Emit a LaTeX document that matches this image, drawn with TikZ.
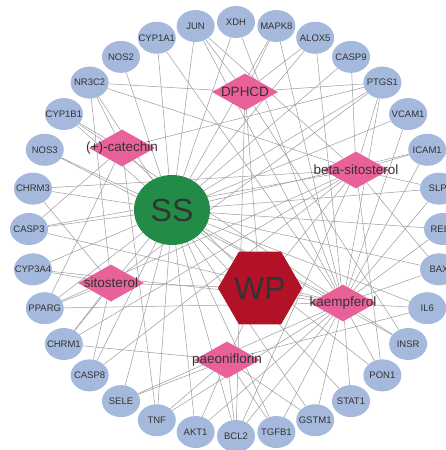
\documentclass[tikz,border=0pt]{standalone}
\usepackage{fontspec}
\setmainfont{Liberation Sans}
\usetikzlibrary{shapes.geometric}
\pgfdeclarelayer{bg}
\pgfsetlayers{bg,main}
\definecolor{tgtblue}{RGB}{164,185,220}
\definecolor{cmppink}{RGB}{233,97,154}
\definecolor{ssgreen}{RGB}{35,139,72}
\definecolor{wpred}{RGB}{178,18,40}
\definecolor{txtgray}{RGB}{51,51,51}
\definecolor{linkgray}{RGB}{155,155,155}
\begin{document}
\begin{tikzpicture}[x=1pt,y=-1pt]
\tikzstyle{target}=[ellipse,fill=tgtblue,minimum width=38pt,minimum height=32pt,inner sep=0pt]
\tikzstyle{ttext}=[text=txtgray,font=\fontsize{9.5}{11}\selectfont]
\tikzstyle{compound}=[diamond,fill=cmppink,minimum width=66pt,minimum height=37pt,inner sep=0pt]
\tikzstyle{ctext}=[text=txtgray,font=\fontsize{13.5}{16}\selectfont]
\tikzstyle{link}=[draw=linkgray,line width=0.5pt]

\useasboundingbox (0,0) rectangle (445,450);

% targets on the ring
\foreach \t [count=\i from 0] in {RELA,SLPI,ICAM1,VCAM1,PTGS1,CASP9,ALOX5,MAPK8,XDH,JUN,CYP1A1,NOS2,NR3C2,CYP1B1,NOS3,CHRM3,CASP3,CYP3A4,PPARG,CHRM1,CASP8,SELE,TNF,AKT1,BCL2,TGFB1,GSTM1,STAT1,PON1,INSR,IL6,BAX}
  \node[target,label={[ttext]center:\t}] (\t) at ({236+207*cos(11.25*\i)},{229-207*sin(11.25*\i)}) {};

% compounds
\node[compound,label={[ctext]center:DPHCD}] (dphcd) at (245,92) {};
\node[compound,label={[ctext]center:(+)-catechin}] (catechin) at (122,148) {};
\node[compound,label={[ctext]center:beta-sitosterol}] (bsito) at (356,170) {};
\node[compound,label={[ctext]center:sitosterol}] (sito) at (111,283) {};
\node[compound,label={[ctext]center:kaempferol}] (kaemp) at (343,303) {};
\node[compound,label={[ctext]center:paeoniflorin}] (paeon) at (227,360) {};

% disease and herb
\node[ellipse,fill=ssgreen,minimum width=76pt,minimum height=70pt,inner sep=0pt,text=txtgray,font=\fontsize{32}{36}\selectfont] (SS) at (172,210) {SS};
\node[regular polygon,regular polygon sides=6,fill=wpred,minimum size=72pt,inner sep=0pt,text=txtgray,font=\fontsize{32}{36}\selectfont] (WP) at (260,288) {WP};

\begin{pgfonlayer}{bg}
\foreach \t in {RELA,SLPI,ICAM1,VCAM1,PTGS1,CASP9,ALOX5,MAPK8,XDH,JUN,CYP1A1,NOS2,NR3C2,CYP1B1,NOS3,CHRM3,CASP3,CYP3A4,PPARG,CHRM1,CASP8,SELE,TNF,AKT1,BCL2,TGFB1,GSTM1,STAT1,PON1,INSR,IL6,BAX}
  \draw[link] (SS) -- (\t);
\foreach \c in {dphcd,catechin,bsito,sito,kaemp,paeon}
  \draw[link] (WP) -- (\c);
\foreach \t in {PTGS1,ICAM1,VCAM1,SLPI,RELA,BAX,IL6,INSR,PON1,STAT1,GSTM1,TGFB1,BCL2,AKT1,TNF,SELE,PPARG,CYP3A4,CASP3,NOS3,CYP1B1,CYP1A1,XDH,ALOX5,MAPK8,JUN}
  \draw[link] (kaemp) -- (\t);
\foreach \t in {PTGS1,CASP9,ICAM1,SLPI,BAX,BCL2,CASP3,CASP8,JUN,CHRM3,CHRM1,PPARG,NR3C2,PON1}
  \draw[link] (bsito) -- (\t);
\foreach \t in {NR3C2,CYP1B1,PTGS1,CASP3,PPARG,TNF}
  \draw[link] (catechin) -- (\t);
\foreach \t in {NR3C2,CHRM3,CYP3A4,PPARG,CHRM1,CASP8,PTGS1}
  \draw[link] (sito) -- (\t);
\foreach \t in {SELE,TNF,AKT1,BCL2,TGFB1,GSTM1,IL6,CHRM1}
  \draw[link] (paeon) -- (\t);
\foreach \t in {NR3C2,JUN,MAPK8,ALOX5,PTGS1,BCL2,INSR}
  \draw[link] (dphcd) -- (\t);
\end{pgfonlayer}

\end{tikzpicture}
\end{document}
